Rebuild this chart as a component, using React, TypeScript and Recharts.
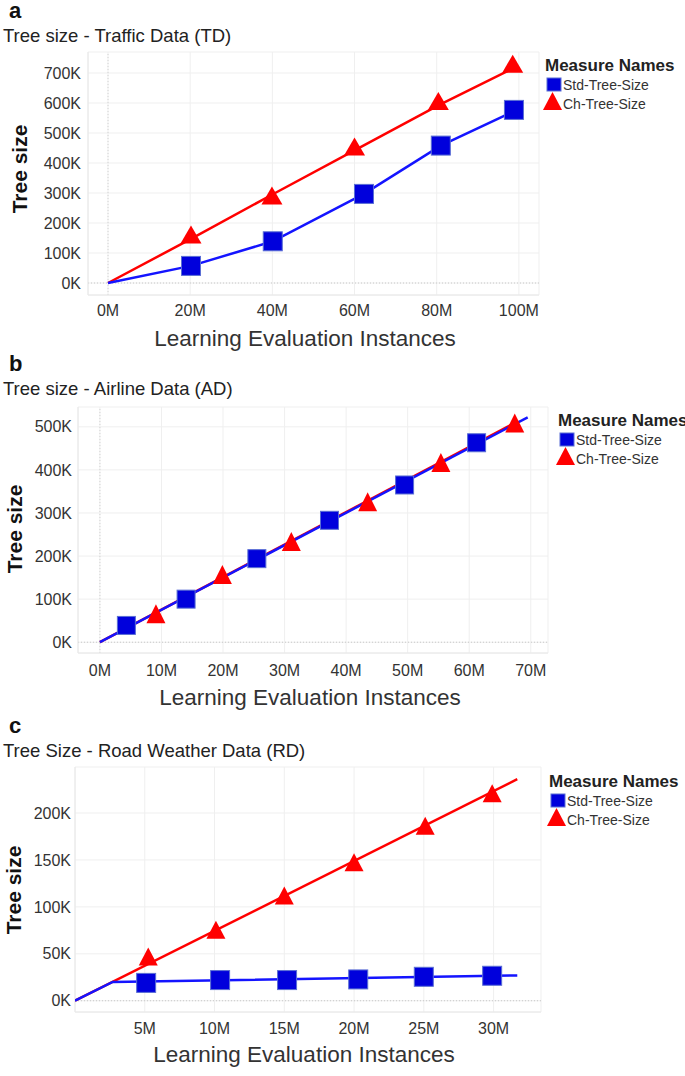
import React from "react";
import { ScatterChart, Scatter, XAxis, YAxis, CartesianGrid, ReferenceLine } from "recharts";

const FONT = "'Liberation Sans', Arial, sans-serif";
const BLUE = "#0000dc";
const BLUE_LINE = "#1414ff";
const RED = "#ff0000";

// x values in millions of instances, y values in thousands (tree size)

// a - Traffic Data (TD)
const tdXTicks = [0, 20, 40, 60, 80, 100];
const tdYTicks = [0, 100, 200, 300, 400, 500, 600, 700];
const tdStdX = [20.2, 40.1, 62.3, 81, 98.8];
const tdStdY = [57, 139, 297, 458, 577];
const tdStdLineX = [0, 20.2, 40.1, 62.3, 81, 98.8];
const tdStdLineY = [0, 57, 139, 297, 458, 572];
const tdChX = [20.2, 39.9, 60, 80.4, 98.5];
const tdChY = [162, 292, 455, 607, 731];
const tdChLineX = [0, 20.2, 40, 60, 80.4, 99.5];
const tdChLineY = [0, 147, 295, 442, 592, 722];

// b - Airline Data (AD)
const adXTicks = [0, 10, 20, 30, 40, 50, 60, 70];
const adYTicks = [0, 100, 200, 300, 400, 500];
const adStdX = [4.3, 14.0, 25.5, 37.3, 49.5, 61.2];
const adStdY = [39, 100, 194, 283, 365, 463];
const adStdLineX = [0, 69.5];
const adStdLineY = [0, 522];
const adChX = [9.1, 19.9, 31.1, 43.5, 55.4, 67.4];
const adChY = [66, 157, 234, 326, 417, 509];
const adChLineX = [0, 67.4];
const adChLineY = [0, 509];

// c - Road Weather Data (RD)
const rdXTicks = [5, 10, 15, 20, 25, 30];
const rdYTicks = [0, 50, 100, 150, 200];
const rdStdX = [5.1, 10.4, 15.2, 20.3, 25, 29.9];
const rdStdY = [19, 22, 22, 22.7, 25.5, 26.6];
const rdStdLineX = [0, 2.7, 31.7];
const rdStdLineY = [0, 20, 27];
const rdChX = [5.25, 10.1, 15, 20, 25.1, 29.9];
const rdChY = [47, 75.5, 112, 147.5, 186.5, 221];
const rdChLineX = [0, 31.7];
const rdChLineY = [0, 236];

const pts = (xs: number[], ys: number[]) => xs.map((x, i) => ({ x, y: ys[i] }));

const noDot = () => <g />;

const squareShape = (size: number) => (p: any) => (
  <rect
    x={p.cx - size / 2}
    y={p.cy - size / 2}
    width={size}
    height={size}
    fill={BLUE}
    stroke="#5a6ed4"
    strokeWidth={1}
  />
);

const triangleShape = (w: number, h: number) => (p: any) => (
  <polygon
    points={`${p.cx},${p.cy - h / 2} ${p.cx + w / 2},${p.cy + h / 2} ${p.cx - w / 2},${p.cy + h / 2}`}
    fill={RED}
  />
);

type PanelProps = {
  top: number;
  height: number;
  plot: { l: number; r: number; t: number; b: number };
  xDomain: [number, number];
  yDomain: [number, number];
  xTicks: number[];
  yTicks: number[];
  yTickGap: number;
  xTickGap: number;
  zeroX: boolean;
  std: { x: number; y: number }[];
  stdLine: { x: number; y: number }[];
  ch: { x: number; y: number }[];
  chLine: { x: number; y: number }[];
  sq: number;
  tri: [number, number];
};

function Panel(p: PanelProps) {
  const xAxisH = 40;
  const margin = {
    top: p.plot.t - p.top,
    right: 685 - p.plot.r,
    left: 0,
    bottom: p.top + p.height - p.plot.b - xAxisH,
  };
  const tick = { fontSize: 16, fontFamily: FONT, fill: "#333" };
  return (
    <div style={{ position: "absolute", left: 0, top: p.top }}>
      <ScatterChart width={685} height={p.height} margin={margin}>
        <CartesianGrid stroke="#efefef" strokeWidth={1} />
        <XAxis
          type="number"
          dataKey="x"
          domain={p.xDomain}
          ticks={p.xTicks}
          allowDataOverflow
          height={xAxisH}
          tickFormatter={(v) => `${v}M`}
          tick={tick}
          tickSize={0}
          tickMargin={p.xTickGap}
          axisLine={{ stroke: "#e8e8e8" }}
          tickLine={false}
        />
        <YAxis
          type="number"
          dataKey="y"
          domain={p.yDomain}
          ticks={p.yTicks}
          allowDataOverflow
          width={p.plot.l}
          tickFormatter={(v) => `${v}K`}
          tick={tick}
          tickSize={0}
          tickMargin={p.yTickGap}
          axisLine={{ stroke: "#e8e8e8" }}
          tickLine={false}
        />
        <ReferenceLine y={0} stroke="#c8c8c8" strokeDasharray="1 2" />
        {p.zeroX && <ReferenceLine x={0} stroke="#d4d4d4" strokeDasharray="1 2" />}
        <Scatter
          data={p.chLine}
          line={{ stroke: RED, strokeWidth: 2.5 }}
          shape={noDot}
          isAnimationActive={false}
        />
        <Scatter
          data={p.stdLine}
          line={{ stroke: BLUE_LINE, strokeWidth: 2.5 }}
          shape={noDot}
          isAnimationActive={false}
        />
        <Scatter data={p.ch} shape={triangleShape(p.tri[0], p.tri[1])} isAnimationActive={false} />
        <Scatter data={p.std} shape={squareShape(p.sq)} isAnimationActive={false} />
      </ScatterChart>
    </div>
  );
}

function Legend({ lx, ly }: { lx: number; ly: number }) {
  return (
    <g>
      <text x={lx} y={ly} fontFamily={FONT} fontWeight="bold" fontSize={17} fill="#222">
        Measure Names
      </text>
      <rect x={lx + 2} y={ly + 7} width={14} height={13} fill={BLUE} stroke="#5a6ed4" />
      <text x={lx + 18} y={ly + 19} fontFamily={FONT} fontSize={14} fill="#333">
        Std-Tree-Size
      </text>
      <polygon points={`${lx + 7.5},${ly + 21} ${lx + 17},${ly + 39} ${lx - 2},${ly + 39}`} fill={RED} />
      <text x={lx + 18} y={ly + 38} fontFamily={FONT} fontSize={14} fill="#333">
        Ch-Tree-Size
      </text>
    </g>
  );
}

function Heading({ letter, title, y }: { letter: string; title: string; y: number }) {
  return (
    <g>
      <text x={9} y={y} fontFamily={FONT} fontWeight="bold" fontSize={22} fill="#111">
        {letter}
      </text>
      <text x={3} y={y + 24} fontFamily={FONT} fontSize={18.5} fill="#222">
        {title}
      </text>
    </g>
  );
}

function AxisTitles({ xc, xb, yx, yc }: { xc: number; xb: number; yx: number; yc: number }) {
  return (
    <g>
      <text x={xc} y={xb} textAnchor="middle" fontFamily={FONT} fontSize={22.5} fill="#333">
        Learning Evaluation Instances
      </text>
      <text
        x={yx}
        y={yc}
        textAnchor="middle"
        dominantBaseline="central"
        transform={`rotate(-90 ${yx} ${yc})`}
        fontFamily={FONT}
        fontWeight="bold"
        fontSize={21}
        fill="#111"
      >
        Tree size
      </text>
    </g>
  );
}

export default function App() {
  return (
    <div style={{ position: "absolute", left: 0, top: 0, width: 685, height: 1076, background: "#fff" }}>
      <Panel
        top={0}
        height={360}
        plot={{ l: 88, r: 539, t: 52, b: 295 }}
        xDomain={[-4.87, 104.9]}
        yDomain={[-40, 770]}
        xTicks={tdXTicks}
        yTicks={tdYTicks}
        yTickGap={7}
        xTickGap={10}
        zeroX
        std={pts(tdStdX, tdStdY)}
        stdLine={pts(tdStdLineX, tdStdLineY)}
        ch={pts(tdChX, tdChY)}
        chLine={pts(tdChLineX, tdChLineY)}
        sq={19}
        tri={[21, 18]}
      />
      <Panel
        top={355}
        height={355}
        plot={{ l: 78, r: 548, t: 407, b: 653 }}
        xDomain={[-3.56, 72.8]}
        yDomain={[-25, 546]}
        xTicks={adXTicks}
        yTicks={adYTicks}
        yTickGap={6}
        xTickGap={12}
        zeroX
        std={pts(adStdX, adStdY)}
        stdLine={pts(adStdLineX, adStdLineY)}
        ch={pts(adChX, adChY)}
        chLine={pts(adChLineX, adChLineY)}
        sq={18}
        tri={[19, 19]}
      />
      <Panel
        top={712}
        height={360}
        plot={{ l: 75, r: 541, t: 767, b: 1012 }}
        xDomain={[0, 33.4]}
        yDomain={[-12, 249]}
        xTicks={rdXTicks}
        yTicks={rdYTicks}
        yTickGap={4}
        xTickGap={11}
        zeroX={false}
        std={pts(rdStdX, rdStdY)}
        stdLine={pts(rdStdLineX, rdStdLineY)}
        ch={pts(rdChX, rdChY)}
        chLine={pts(rdChLineX, rdChLineY)}
        sq={19}
        tri={[19, 18]}
      />
      <svg
        width={685}
        height={1076}
        style={{ position: "absolute", left: 0, top: 0, pointerEvents: "none" }}
      >
        <Heading letter="a" title="Tree size - Traffic Data (TD)" y={18} />
        <Heading letter="b" title="Tree size - Airline Data (AD)" y={371} />
        <Heading letter="c" title="Tree Size - Road Weather Data (RD)" y={733} />
        <AxisTitles xc={305} xb={346} yx={19} yc={169} />
        <AxisTitles xc={310} xb={705} yx={14} yc={529} />
        <AxisTitles xc={304} xb={1062} yx={13} yc={890} />
        <Legend lx={545} ly={71} />
        <Legend lx={558} ly={426} />
        <Legend lx={549} ly={787} />
      </svg>
    </div>
  );
}
